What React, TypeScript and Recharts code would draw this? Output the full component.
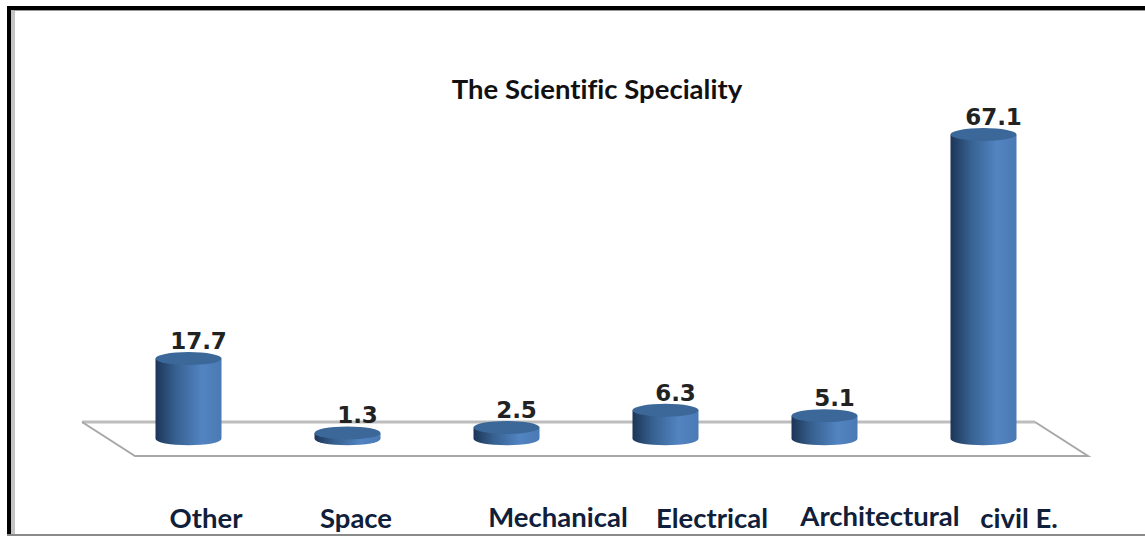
import React from "react";
import { BarChart, Bar, XAxis, YAxis, LabelList } from "recharts";

const categories = ["Other", "Space", "Mechanical", "Electrical", "Architectural", "civil E."];
const shares = [17.7, 1.3, 2.5, 6.3, 5.1, 67.1];
const chartTitle = "The Scientific Speciality";

const rows = categories.map((name, i) => ({ name, share: shares[i] }));

// Hand-set label placement: horizontal shift from each column centre, and baseline nudge.
const tickShiftX = [18, 9, 52, 47, 56, 36];
const tickShiftY = [0, 0, -1, 0, -2, 0];

const WIDTH = 1145;
const HEIGHT = 536;
const ELLIPSE_RY = 6.5;
const LATO = "Lato, Carlito, sans-serif";

function Cylinder(props: any) {
  const { x, y, width, height } = props;
  const rx = width / 2;
  const cx = x + rx;
  const bottom = y + height;
  const body = `M${x},${y} L${x},${bottom} A${rx},${ELLIPSE_RY} 0 0 0 ${x + width},${bottom} L${x + width},${y} Z`;
  return (
    <g>
      <path d={body} fill="url(#cylinderSide)" />
      <ellipse cx={cx} cy={y} rx={rx} ry={ELLIPSE_RY} fill="#3b6799" />
    </g>
  );
}

function ValueLabel(props: any) {
  const { x, y, width, value } = props;
  return (
    <text
      x={x + width / 2 + 10}
      y={y - ELLIPSE_RY - 3}
      textAnchor="middle"
      fontFamily="'DejaVu Sans', sans-serif"
      fontWeight={700}
      fontSize={23}
      fill="#222"
    >
      {value}
    </text>
  );
}

function CategoryTick(props: any) {
  const { x, y, index, payload } = props;
  return (
    <text
      x={x + tickShiftX[index]}
      y={y + 81 + tickShiftY[index]}
      textAnchor="middle"
      fontFamily={LATO}
      fontWeight={700}
      fontSize={27.5}
      fill="#10203a"
      style={{ fontVariantLigatures: "none" }}
    >
      {payload.value}
    </text>
  );
}

// Thin slab the columns stand on.
function Floor() {
  return (
    <g fill="none" strokeLinejoin="miter">
      <line x1={82} y1={422} x2={1035} y2={422} stroke="#bdbdbd" strokeWidth={3} />
      <polyline points="82,422 135,456 1088,456 1035,422" stroke="#a8a8a8" strokeWidth={2} />
    </g>
  );
}

export default function App() {
  return (
    <div style={{ position: "absolute", left: 0, top: 0, width: WIDTH, height: HEIGHT, overflow: "hidden", background: "#fff" }}>
      {/* Picture frame: heavy black top and left rules, soft grey inner rule, grey foot */}
      <div style={{ position: "absolute", left: 7, top: 6, right: -10, bottom: -10, borderTop: "4px solid #000", borderLeft: "4px solid #000" }} />
      <div style={{ position: "absolute", left: 11, top: 10, right: -10, bottom: -10, borderTop: "1px solid #999", borderLeft: "4px solid #c4c4c4" }} />
      <div style={{ position: "absolute", left: 7, right: 0, top: 534, height: 2, background: "#8a8a8a" }} />
      <div style={{ position: "absolute", left: 0, top: 0 }}>
        <BarChart
          width={WIDTH}
          height={HEIGHT}
          data={rows}
          margin={{ top: 76, right: 82.5, bottom: 0, left: 108.5 }}
        >
          <defs>
            <linearGradient id="cylinderSide" x1="0" y1="0" x2="1" y2="0">
              <stop offset="0" stopColor="#1d3557" />
              <stop offset="0.3" stopColor="#36608f" />
              <stop offset="0.7" stopColor="#5284c2" />
              <stop offset="1" stopColor="#4a7ab4" />
            </linearGradient>
          </defs>
          <Floor />
          <text
            x={597}
            y={99}
            textAnchor="middle"
            fontFamily={LATO}
            fontWeight={700}
            fontSize={27.5}
            fill="#111"
            style={{ fontVariantLigatures: "none" }}
          >
            {chartTitle}
          </text>
          <XAxis
            dataKey="name"
            axisLine={false}
            tickLine={false}
            height={97.2}
            interval={0}
            tick={<CategoryTick />}
          />
          <YAxis hide domain={[0, 80]} />
          <Bar dataKey="share" barSize={66} isAnimationActive={false} shape={<Cylinder />}>
            <LabelList dataKey="share" content={<ValueLabel />} />
          </Bar>
        </BarChart>
      </div>
    </div>
  );
}
